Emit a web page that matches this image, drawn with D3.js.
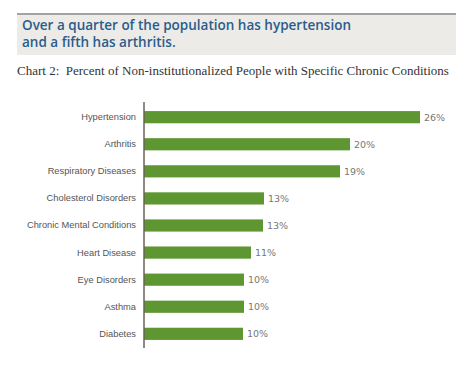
<!DOCTYPE html>
<html lang="en">
    <head>
        <meta charset="utf-8">
        <title>Chronic Conditions</title>
        <script src="https://d3js.org/d3.v7.min.js"></script>
        <style type="text/css">
            body { margin: 0; background: #fff; }

            .header rect.box { fill: #ecebe7; }
            .header rect.rule { fill: #a3a3a3; }
            .header text {
                font-family: "Open Sans", sans-serif;
                font-size: 13.5px;
                font-weight: 600;
                fill: #2b5c8c;
            }

            .subtitle {
                font-family: "Liberation Serif", serif;
                font-size: 13px;
                fill: #333;
                white-space: pre;
            }

            .cat text {
                font-family: "Liberation Sans", sans-serif;
                font-size: 9.3px;
                fill: #555;
            }

            .value {
                font-family: "DejaVu Sans", sans-serif;
                font-size: 9.5px;
                fill: #777;
            }

            .bar { fill: #5e9732; }
            .axis-line { stroke: #6b6359; stroke-width: 1.5px; }
        </style>
    </head>
    <body>
        <script type="text/javascript">

            const w = 471;
            const h = 370;

            const titleLines = ["Over a quarter of the population has hypertension", "and a fifth has arthritis."];
            const subtitle = "Chart 2:  Percent of Non-institutionalized People with Specific Chronic Conditions";

            const categories = ["Hypertension", "Arthritis", "Respiratory Diseases", "Cholesterol Disorders",
                "Chronic Mental Conditions", "Heart Disease", "Eye Disorders", "Asthma", "Diabetes"];
            // bar lengths as drawn in the picture
            const values = [27.6, 20.6, 19.6, 12.0, 11.9, 10.7, 10.0, 10.0, 9.9];
            // printed labels
            const valueLabels = ["26%", "20%", "19%", "13%", "13%", "11%", "10%", "10%", "10%"];

            const svg = d3.select("body").append("svg").attr("width", w).attr("height", h);

            // header box
            const header = svg.append("g").attr("class", "header");
            header.append("rect").attr("class", "box")
                .attr("x", 17).attr("y", 13).attr("width", 439).attr("height", 42);
            header.append("rect").attr("class", "rule")
                .attr("x", 17).attr("y", 13).attr("width", 439).attr("height", 2);
            header.selectAll("text")
                .data(titleLines)
                .enter().append("text")
                .attr("x", 22)
                .attr("y", (d, i) => 30 + i * 16.5)
                .text(d => d);

            svg.append("text")
                .attr("class", "subtitle")
                .attr("x", 17)
                .attr("y", 75)
                .text(subtitle);

            const x0 = 144;
            const xScale = d3.scaleLinear().domain([0, 30]).range([x0, x0 + 300]);
            const yScale = d3.scaleBand().domain(categories).range([103.5, 347.5]).paddingInner(0.55).paddingOuter(0.28);

            const cats = svg.append("g").attr("class", "cat")
                .attr("transform", "translate(" + (x0 - 8) + ",0)")
                .call(d3.axisLeft(yScale).tickSize(0).tickPadding(0));
            cats.select(".domain").remove();

            svg.selectAll(".bar")
                .data(values)
                .enter().append("rect")
                .attr("class", "bar")
                .attr("x", xScale(0))
                .attr("y", (d, i) => yScale(categories[i]))
                .attr("width", d => xScale(d) - xScale(0))
                .attr("height", yScale.bandwidth());

            svg.selectAll(".value")
                .data(values)
                .enter().append("text")
                .attr("class", "value")
                .attr("x", d => xScale(d) + 4)
                .attr("y", (d, i) => yScale(categories[i]) + yScale.bandwidth() / 2)
                .attr("dy", "0.35em")
                .text((d, i) => valueLabels[i]);

            svg.append("line")
                .attr("class", "axis-line")
                .attr("x1", x0).attr("x2", x0)
                .attr("y1", 102).attr("y2", 348);
        </script>
    </body>
</html>
